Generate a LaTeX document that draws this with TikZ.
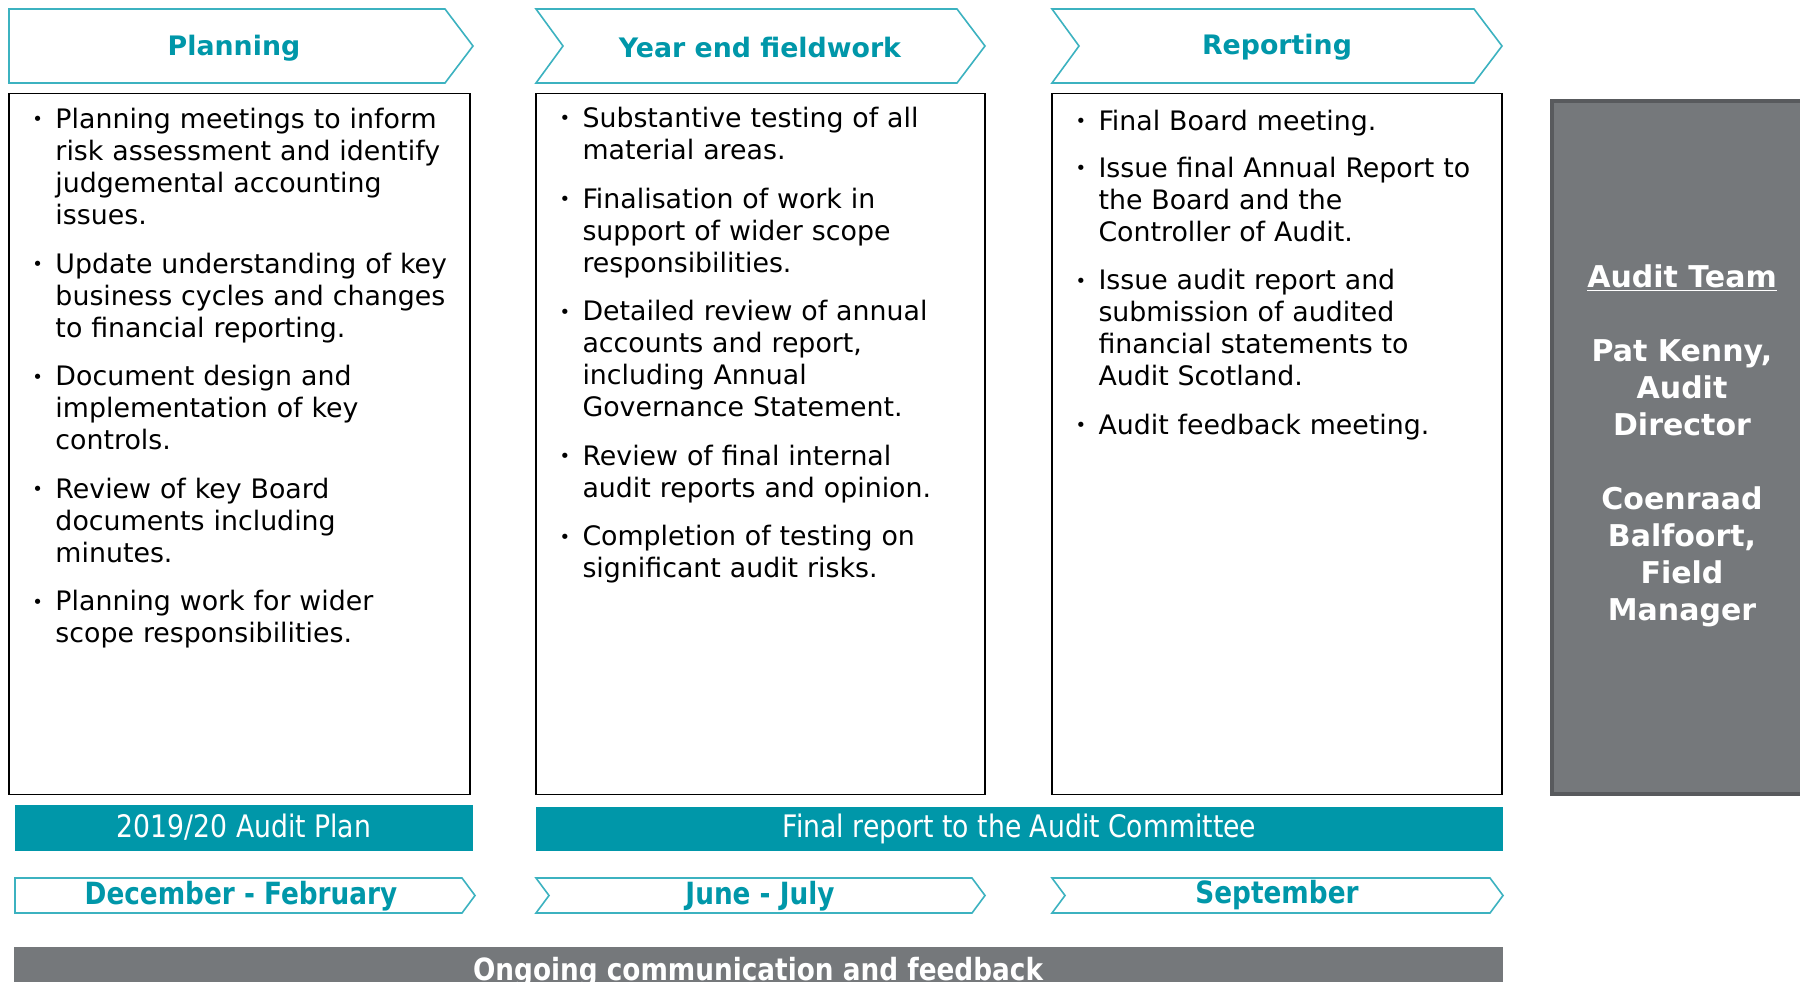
\documentclass[tikz,border=0pt]{standalone}
\usepackage{fontspec}
\setmainfont{DejaVu Sans}
\newfontfamily\narrowfont[FakeStretch=0.86]{DejaVu Sans}
\usetikzlibrary{positioning}

\definecolor{auditteal}{RGB}{0,151,169}
\definecolor{chevteal}{RGB}{60,178,192}
\definecolor{auditgrey}{RGB}{117,120,123}
\definecolor{auditgreydark}{RGB}{88,90,93}

\newcommand{\bitem}[1]{\par\noindent
  \makebox[11.5pt][l]{\raisebox{1.3pt}{\fontsize{9pt}{9pt}\selectfont\textbullet}}%
  \parbox[t]{215pt}{\raggedright\strut #1\strut}\par}

\begin{document}
\begin{tikzpicture}[x=0.5pt,y=-0.5pt,
    chev/.style={draw=chevteal,line width=0.8pt,fill=white},
    head/.style={text=auditteal,font=\fontsize{13.4pt}{16pt}\selectfont\bfseries},
    listbox/.style={draw=black,line width=0.9pt,minimum height=350.5pt,inner sep=0pt},
    list/.style={anchor=north west,inner sep=0pt,text width=240pt,align=left,
        font=\fontsize{13.4pt}{16pt}\selectfont,execute at begin node=\setlength{\parskip}{7.3pt}},
    bar/.style={fill=auditteal,text=white,inner sep=0pt,minimum height=23pt,
        font=\narrowfont\fontsize{15.5pt}{18pt}\selectfont},
    month/.style={text=auditteal,font=\narrowfont\fontsize{15.3pt}{17pt}\selectfont\bfseries}]

\useasboundingbox (0,0) rectangle (1800,981);

% phase headers
\draw[chev] (9,9) -- (445,9) -- (473,46) -- (445,83) -- (9,83) -- cycle;
\draw[chev] (536,9) -- (957,9) -- (985,46) -- (957,83) -- (536,83) -- (563,46) -- cycle;
\draw[chev] (1052,9) -- (1474,9) -- (1502,46) -- (1474,83) -- (1052,83) -- (1079,46) -- cycle;
\node[head] (planning) at (234,48) {Planning};
\node[head] (fieldwork) at (760,48) {Year end fieldwork};
\node[head] (reporting) at (1277,47) {Reporting};

% task boxes
\node[listbox,minimum width=230.5pt] (planbox) at (239.5,444) {};
\node[listbox,minimum width=224.5pt] (fieldbox) at (760.5,444) {};
\node[listbox,minimum width=225pt] (reportbox) at (1277,444) {};

\node[list] (planlist) [below right=-5.6pt and 12pt of planbox.north west] {%
  \bitem{Planning meetings to inform\\risk assessment and identify\\judgemental accounting\\issues.}
  \bitem{Update understanding of key\\business cycles and changes\\to financial reporting.}
  \bitem{Document design and\\implementation of key\\controls.}
  \bitem{Review of key Board\\documents including\\minutes.}
  \bitem{Planning work for wider\\scope responsibilities.}};
\node[list] (fieldlist) [below right=-6.1pt and 12pt of fieldbox.north west] {%
  \bitem{Substantive testing of all\\material areas.}
  \bitem{Finalisation of work in\\support of wider scope\\responsibilities.}
  \bitem{Detailed review of annual\\accounts and report,\\including Annual\\Governance Statement.}
  \bitem{Review of final internal\\audit reports and opinion.}
  \bitem{Completion of testing on\\significant audit risks.}};
\node[list] (reportlist) [below right=-4.6pt and 12pt of reportbox.north west] {%
  \bitem{Final Board meeting.}
  \bitem{Issue final Annual Report to\\the Board and the\\Controller of Audit.}
  \bitem{Issue audit report and\\submission of audited\\financial statements to\\Audit Scotland.}
  \bitem{Audit feedback meeting.}};

% audit team
\draw[draw=auditgreydark,line width=2pt,fill=auditgrey] (1552,101) rectangle (1812,794);
\node[text=white,align=center,font=\fontsize{15pt}{18.5pt}\selectfont\bfseries] (team) at (1682,446)
  {\underline{Audit Team}\\[18.5pt]Pat Kenny,\\Audit\\Director\\[18.5pt]Coenraad\\Balfoort,\\Field\\Manager};

% outputs
\node[bar,minimum width=229pt] (planbar) at (244,827.5) {2019/20 Audit Plan};
\node[bar,minimum width=483.5pt,minimum height=22pt] (finalbar) at (1019.5,829) {Final report to the Audit Committee};

% timing
\draw[chev] (15,878) -- (462,878) -- (475,895.5) -- (462,913) -- (15,913) -- cycle;
\draw[chev] (536,878) -- (972,878) -- (985,895.5) -- (972,913) -- (536,913) -- (549,895.5) -- cycle;
\draw[chev] (1052,878) -- (1490,878) -- (1503,895.5) -- (1490,913) -- (1052,913) -- (1065,895.5) -- cycle;
\node[month] (decfeb) at (241,896) {December - February};
\node[month] (junjul) at (760,896) {June - July};
\node[month] (sept) at (1277,895) {September};

% communication
\fill[auditgrey] (14,947) rectangle (1503,995);
\node[anchor=base,text=white,font=\narrowfont\fontsize{15.3pt}{17pt}\selectfont\bfseries] (comms) at (758,980)
  {Ongoing communication and feedback};
\end{tikzpicture}
\end{document}
